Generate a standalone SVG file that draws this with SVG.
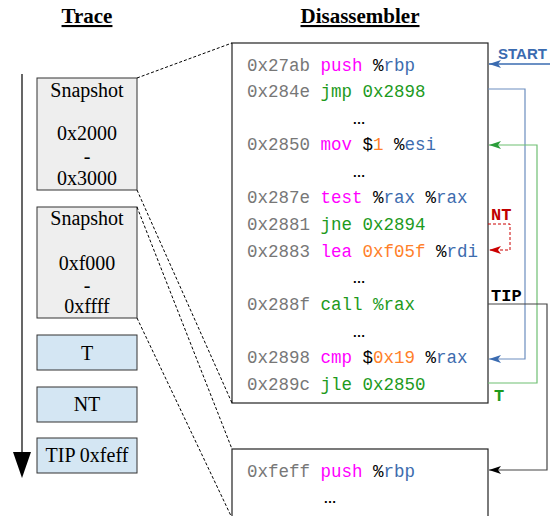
<svg xmlns="http://www.w3.org/2000/svg" width="554" height="516" viewBox="0 0 554 516">
<style>
.title{font-family:"Liberation Serif",serif;font-weight:bold;font-size:21px;text-decoration:underline;text-anchor:middle;fill:#000}
.nt{font-family:"Liberation Serif",serif;font-size:20px;text-anchor:middle;fill:#000}
.snap{fill:#eeeeee;stroke:#333;stroke-width:1}
.ev{fill:#d4e6f3;stroke:#333;stroke-width:1}
.code{font-family:"Liberation Mono",monospace;font-size:17.5px;fill:#000}
.ad{fill:#777}
.mg{fill:#ff00ff}
.gr{fill:#1d9a1d}
.bl{fill:#3d6cae}
.or{fill:#ff7f2a}
.dots{font-family:"Liberation Sans",sans-serif;font-weight:bold;font-size:13px;text-anchor:middle;fill:#000}
.box{fill:#fff;stroke:#222;stroke-width:1.2}
.dash{fill:none;stroke:#000;stroke-width:1;stroke-dasharray:3,2}
.lbl{font-family:"Liberation Mono",monospace;font-weight:bold;font-size:17px}
</style>
<defs>
<marker id="mBlue" viewBox="0 0 12 8" refX="12" refY="4" markerWidth="12" markerHeight="8" orient="auto" markerUnits="userSpaceOnUse"><path d="M0,0 L12,4 L0,8 L3,4 z" fill="#3a6bb0"/></marker>
<marker id="mGreen" viewBox="0 0 12 8" refX="12" refY="4" markerWidth="12" markerHeight="8" orient="auto" markerUnits="userSpaceOnUse"><path d="M0,0 L12,4 L0,8 L3,4 z" fill="#2a9d3a"/></marker>
<marker id="mRed" viewBox="0 0 12 8" refX="12" refY="4" markerWidth="12" markerHeight="8" orient="auto" markerUnits="userSpaceOnUse"><path d="M0,0 L12,4 L0,8 L3,4 z" fill="#cc0000"/></marker>
<marker id="mBlack" viewBox="0 0 12 8" refX="12" refY="4" markerWidth="12" markerHeight="8" orient="auto" markerUnits="userSpaceOnUse"><path d="M0,0 L12,4 L0,8 L3,4 z" fill="#000"/></marker>
</defs>

<text class="title" x="87" y="23">Trace</text>
<text class="title" x="360" y="23">Disassembler</text>

<g id="timeline">
<line x1="22" y1="74" x2="22" y2="455" stroke="#000" stroke-width="1.2"/>
<polygon points="13,452 31,452 22,478" fill="#000"/>
</g>

<g id="snapshot1">
<rect class="snap" x="37" y="78" width="100" height="112"/>
<text class="nt" x="87" y="97">Snapshot</text>
<text class="nt" x="87" y="140">0x2000</text>
<text class="nt" x="87" y="163">-</text>
<text class="nt" x="87" y="185">0x3000</text>
</g>
<g id="snapshot2">
<rect class="snap" x="37" y="207" width="100" height="111"/>
<text class="nt" x="87" y="225">Snapshot</text>
<text class="nt" x="87" y="270">0xf000</text>
<text class="nt" x="87" y="292">-</text>
<text class="nt" x="87" y="313">0xffff</text>
</g>
<g id="ev-t">
<rect class="ev" x="37" y="335" width="100" height="35"/>
<text class="nt" x="87" y="360">T</text>
</g>
<g id="ev-nt">
<rect class="ev" x="37" y="387" width="100" height="35"/>
<text class="nt" x="87" y="411">NT</text>
</g>
<g id="ev-tip">
<rect class="ev" x="37" y="438" width="100" height="35"/>
<text class="nt" x="87" y="462">TIP 0xfeff</text>
</g>

<g id="disasm1">
<rect class="box" x="232" y="43" width="256" height="360"/>
<text class="code" x="247" y="71"><tspan class="ad">0x27ab</tspan> <tspan class="mg">push</tspan> %<tspan class="bl">rbp</tspan></text>
<text class="code" x="247" y="97"><tspan class="ad">0x284e</tspan> <tspan class="gr">jmp 0x2898</tspan></text>
<text class="dots" x="359" y="124">…</text>
<text class="code" x="247" y="150"><tspan class="ad">0x2850</tspan> <tspan class="mg">mov</tspan> $<tspan class="or">1</tspan> %<tspan class="bl">esi</tspan></text>
<text class="dots" x="359" y="177">…</text>
<text class="code" x="247" y="203"><tspan class="ad">0x287e</tspan> <tspan class="mg">test</tspan> %<tspan class="bl">rax</tspan> %<tspan class="bl">rax</tspan></text>
<text class="code" x="247" y="230"><tspan class="ad">0x2881</tspan> <tspan class="gr">jne 0x2894</tspan></text>
<text class="code" x="247" y="257"><tspan class="ad">0x2883</tspan> <tspan class="mg">lea</tspan> <tspan class="or">0xf05f</tspan> %<tspan class="bl">rdi</tspan></text>
<text class="dots" x="359" y="283">…</text>
<text class="code" x="247" y="310"><tspan class="ad">0x288f</tspan> <tspan class="gr">call %rax</tspan></text>
<text class="dots" x="359" y="337">…</text>
<text class="code" x="247" y="363"><tspan class="ad">0x2898</tspan> <tspan class="mg">cmp</tspan> $<tspan class="or">0x19</tspan> %<tspan class="bl">rax</tspan></text>
<text class="code" x="247" y="390"><tspan class="ad">0x289c</tspan> <tspan class="gr">jle 0x2850</tspan></text>
</g>

<g id="disasm2">
<rect class="box" x="232" y="449" width="256" height="80"/>
<text class="code" x="247" y="477"><tspan class="ad">0xfeff</tspan> <tspan class="mg">push</tspan> %<tspan class="bl">rbp</tspan></text>
<text class="dots" x="330" y="503">…</text>
</g>

<g id="connectors">
<path class="dash" d="M137,78 L232,43"/>
<path class="dash" d="M137,190 L232,403"/>
<path class="dash" d="M137,207 L232,449"/>
<path class="dash" d="M137,318 L232,518"/>
<path d="M550,64 H489" fill="none" stroke="#3a6bb0" stroke-width="1.5" marker-end="url(#mBlue)"/>
<path d="M488,89 H525 V359 H489" fill="none" stroke="#6c8ebf" stroke-width="1.2" marker-end="url(#mBlue)"/>
<path d="M488,383 H537 V145 H489" fill="none" stroke="#6fbf73" stroke-width="1.2" marker-end="url(#mGreen)"/>
<path d="M488,224 H510 V250 H489" fill="none" stroke="#cc0000" stroke-width="1" stroke-dasharray="3,2" marker-end="url(#mRed)"/>
<path d="M488,304 H547 V470 H489" fill="none" stroke="#444" stroke-width="1.2" marker-end="url(#mBlack)"/>
<text x="498" y="59" font-family="Liberation Sans,sans-serif" font-weight="bold" font-size="15" fill="#3a6bb0">START</text>
<text class="lbl" x="491" y="220" fill="#c00000">NT</text>
<text class="lbl" x="491" y="301" fill="#000">TIP</text>
<text class="lbl" x="494" y="401" fill="#1d9a1d">T</text>
</g>
</svg>
